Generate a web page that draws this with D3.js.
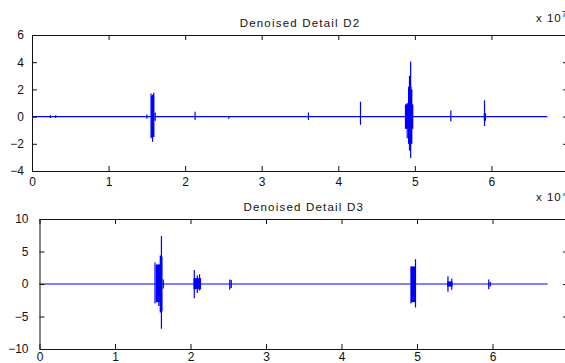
<!DOCTYPE html>
<html>
<head>
<meta charset="utf-8">
<script src="https://cdn.jsdelivr.net/npm/d3@7"></script>
<style>
  body { margin: 0; background: #fff; }
  svg { display: block; font-family: "Liberation Sans", Arial, sans-serif; }
</style>
</head>
<body>
<div id="chart"></div>
<script>
// tick labels
const xTicks = [0, 1, 2, 3, 4, 5, 6];
const d2YTicks = [-4, -2, 0, 2, 4, 6];
const d3YTicks = [-10, -5, 0, 5, 10];
const signalEnd = 6.73;

// isolated spikes: [x, low, high]
const d2Spikes = [
  [0.24, -0.1, 0.1], [0.31, -0.1, 0.1], [1.50, -0.15, 0.15],
  [1.555, -1.6, 1.7], [1.575, -1.85, 1.6], [1.59, -1.5, 1.75], [1.61, -0.3, 0.3],
  [2.13, -0.25, 0.35], [2.57, -0.15, 0.0], [3.61, -0.25, 0.3], [4.29, -0.6, 1.1],
  [4.90, -1.6, 1.0], [4.93, -2.5, 3.0], [4.945, -3.05, 4.05], [4.96, -2.0, 2.0],
  [5.47, -0.35, 0.45], [5.91, -0.7, 1.2]
];
// dense parts: [x0, x1, low, high]
const d2Blocks = [
  [1.555, 1.595, -1.5, 1.5], [4.87, 4.98, -0.9, 0.9], [4.91, 4.955, -2.0, 2.2],
  [5.90, 5.93, -0.3, 0.25]
];

const d3Spikes = [
  [1.53, -3.0, 3.3], [1.58, -3.4, 3.0], [1.60, -4.4, 4.4], [1.615, -6.9, 7.4],
  [1.64, -0.7, 0.7], [2.05, -2.2, 2.15], [2.09, -1.4, 1.3], [2.12, -1.0, 1.5],
  [2.52, -0.9, 0.7], [2.54, -0.6, 0.6], [4.92, -3.0, 2.7], [4.98, -3.6, 3.8],
  [5.41, -1.2, 1.2], [5.46, -0.9, 0.8], [5.95, -0.8, 0.7], [5.97, -0.4, 0.3]
];
const d3Blocks = [
  [1.54, 1.60, -2.8, 3.0], [1.60, 1.63, -4.2, 4.2], [2.04, 2.14, -0.8, 0.9],
  [4.92, 4.985, -2.8, 2.7], [5.40, 5.47, -0.4, 0.4]
];

const W = 565, H = 363;
const svg = d3.select('#chart').append('svg').attr('width', W).attr('height', H);

const panels = [
  { title: 'Denoised Detail D2', spikes: d2Spikes, blocks: d2Blocks, yTicks: d2YTicks,
    yDomain: [-4, 6], left: 32, right: 568, top: 35, bottom: 171, titleY: 27, expY: 22,
    clipTop: null, xPad: 6, yPad: 8 },
  { title: 'Denoised Detail D3', spikes: d3Spikes, blocks: d3Blocks, yTicks: d3YTicks,
    yDomain: [-10, 10], left: 39.5, right: 568, top: 219, bottom: 349, titleY: 211, expY: 201,
    clipTop: 193, xPad: 3, yPad: 11 }
];

panels.forEach((p, i) => {
  const x = d3.scaleLinear().domain([0, 7]).range([p.left, p.right]);
  const y = d3.scaleLinear().domain(p.yDomain).range([p.bottom, p.top]);
  const g = svg.append('g');

  // signal: baseline with vertical excursions
  const pts = [[0, 0]];
  p.spikes.slice().sort((a, b) => a[0] - b[0]).forEach(s => {
    pts.push([s[0], 0], [s[0], s[2]], [s[0], s[1]], [s[0], 0]);
  });
  pts.push([signalEnd, 0]);
  g.append('path')
    .attr('d', d3.line().x(d => x(d[0])).y(d => y(d[1]))(pts))
    .attr('fill', 'none')
    .attr('stroke', '#0000ff')
    .attr('stroke-width', 1.2);

  g.selectAll('rect.blk')
    .data(p.blocks)
    .enter()
    .append('rect')
    .attr('class', 'blk')
    .attr('x', d => x(d[0]))
    .attr('width', d => x(d[1]) - x(d[0]))
    .attr('y', d => y(d[3]))
    .attr('height', d => y(d[2]) - y(d[3]))
    .attr('fill', '#0000ff');

  // axes (ticks inward, box on)
  const tick = 5;
  const fmt = d3.format('d');
  g.append('g').attr('transform', `translate(0,${p.bottom})`)
    .call(d3.axisBottom(x).tickValues(xTicks).tickFormat(fmt).tickSizeInner(-tick).tickSizeOuter(0).tickPadding(p.xPad));
  g.append('g').attr('transform', `translate(0,${p.top})`)
    .call(d3.axisTop(x).tickValues(xTicks).tickSizeInner(-tick).tickSizeOuter(0).tickFormat(''));
  g.append('g').attr('transform', `translate(${p.left},0)`)
    .call(d3.axisLeft(y).tickValues(p.yTicks).tickFormat(fmt).tickSizeInner(-tick).tickSizeOuter(0).tickPadding(p.yPad));
  g.append('g').attr('transform', `translate(${p.right},0)`)
    .call(d3.axisRight(y).tickValues(p.yTicks).tickSizeInner(-tick).tickSizeOuter(0).tickFormat(''));

  g.selectAll('.domain').attr('stroke', '#111');
  g.selectAll('.tick line').attr('stroke', '#111');
  g.selectAll('.tick text')
    .attr('font-size', 12)
    .attr('fill', '#111')
    .attr('font-family', '"Liberation Sans", Arial, sans-serif');

  g.append('text')
    .attr('x', (p.left + p.right) / 2)
    .attr('y', p.titleY)
    .attr('text-anchor', 'middle')
    .attr('font-size', 11.5)
    .attr('letter-spacing', 1.2)
    .attr('fill', '#111')
    .text(p.title);

  const exp = g.append('text')
    .attr('x', 536)
    .attr('y', p.expY)
    .attr('font-size', 11.5)
    .attr('letter-spacing', 1)
    .attr('fill', '#111')
    .text('x 10');
  exp.append('tspan').attr('dy', -5).attr('font-size', 9).text('7');

  if (p.clipTop !== null) {
    svg.append('clipPath').attr('id', 'expclip' + i)
      .append('rect').attr('x', 0).attr('y', p.clipTop).attr('width', W).attr('height', H);
    exp.attr('clip-path', `url(#expclip${i})`);
  }
});
</script>
</body>
</html>
